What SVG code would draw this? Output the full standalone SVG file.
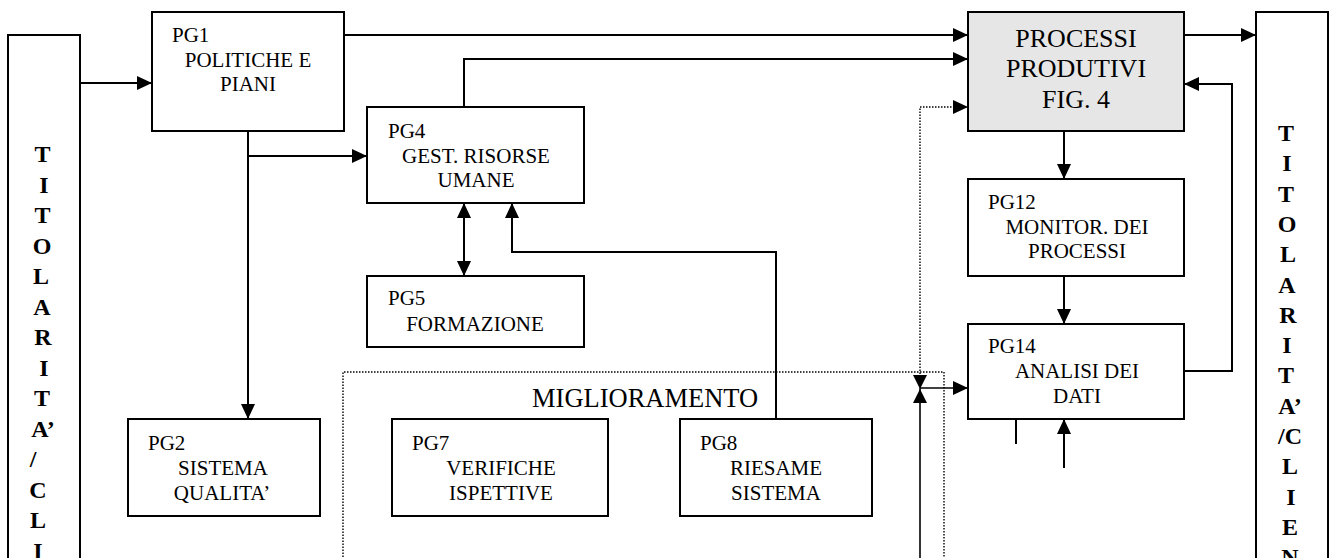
<svg xmlns="http://www.w3.org/2000/svg" width="1334" height="558" viewBox="0 0 1334 558">
<style>
.box{fill:#fff;stroke:#000;stroke-width:2}
.proc{fill:#e6e6e6;stroke:#000;stroke-width:2}
.t{font-family:"Liberation Serif","Times New Roman",serif;font-size:21px;fill:#000}
.c{text-anchor:middle}
.big{font-size:26px}
.col{font-family:"Liberation Serif","Times New Roman",serif;font-size:24px;font-weight:bold;text-anchor:middle;fill:#000}
.ln{fill:none;stroke:#000;stroke-width:2}
.dot{fill:none;stroke:#000;stroke-width:1.4;stroke-dasharray:1.5 1.5}
</style>
<defs>
<marker id="ah" markerUnits="userSpaceOnUse" markerWidth="15" markerHeight="14" refX="15" refY="7" orient="auto-start-reverse">
<path d="M0,0 L15,7 L0,14 z" fill="#000"/>
</marker>
<marker id="ahs" markerUnits="userSpaceOnUse" markerWidth="14" markerHeight="14" refX="14" refY="7" orient="auto-start-reverse">
<path d="M0,0 L14,7 L0,14 z" fill="#000"/>
</marker>
</defs>

<g id="col-left">
<rect class="box" x="8" y="35" width="72" height="540"/>
<text class="col" x="42.5" y="162">T</text>
<text class="col" x="44" y="192.5">I</text>
<text class="col" x="42.5" y="223">T</text>
<text class="col" x="42" y="253.5">O</text>
<text class="col" x="41" y="284">L</text>
<text class="col" x="42" y="314.5">A</text>
<text class="col" x="43" y="345">R</text>
<text class="col" x="44" y="375.5">I</text>
<text class="col" x="42" y="406">T</text>
<text class="col" x="43" y="436.5">A’</text>
<text class="col" x="33" y="467">/</text>
<text class="col" x="38" y="497.5">C</text>
<text class="col" x="38" y="528">L</text>
<text class="col" x="38" y="558.5">I</text>
</g>

<g id="col-right">
<rect class="box" x="1256" y="12" width="72" height="560"/>
<text class="col" x="1286" y="141">T</text>
<text class="col" x="1287" y="171.3">I</text>
<text class="col" x="1286" y="201.6">T</text>
<text class="col" x="1287" y="231.9">O</text>
<text class="col" x="1288" y="262.2">L</text>
<text class="col" x="1287" y="292.5">A</text>
<text class="col" x="1288" y="322.8">R</text>
<text class="col" x="1287" y="353.1">I</text>
<text class="col" x="1286" y="383.4">T</text>
<text class="col" x="1290" y="413.7">A’</text>
<text class="col" x="1290" y="444">/C</text>
<text class="col" x="1290" y="474.3">L</text>
<text class="col" x="1291" y="504.6">I</text>
<text class="col" x="1290" y="534.9">E</text>
<text class="col" x="1290" y="565.2">N</text>
</g>

<g id="pg1">
<rect class="box" x="152" y="12" width="192" height="119"/>
<text class="t" x="172" y="42">PG1</text>
<text class="t c" x="248" y="67">POLITICHE E</text>
<text class="t c" x="248" y="91">PIANI</text>
</g>

<g id="pg4">
<rect class="box" x="367" y="107" width="217" height="96"/>
<text class="t" x="388" y="138">PG4</text>
<text class="t c" x="476" y="163">GEST. RISORSE</text>
<text class="t c" x="476" y="187">UMANE</text>
</g>

<g id="pg5">
<rect class="box" x="367" y="276" width="217" height="71"/>
<text class="t" x="388" y="305">PG5</text>
<text class="t c" x="475" y="331">FORMAZIONE</text>
</g>

<g id="processi">
<rect class="proc" x="968" y="12" width="216" height="119"/>
<text class="t c big" x="1076" y="47">PROCESSI</text>
<text class="t c big" x="1076" y="77">PRODUTIVI</text>
<text class="t c big" x="1076" y="108">FIG. 4</text>
</g>

<g id="pg12">
<rect class="box" x="968" y="179" width="216" height="97"/>
<text class="t" x="988" y="209">PG12</text>
<text class="t c" x="1077" y="234">MONITOR. DEI</text>
<text class="t c" x="1077" y="258">PROCESSI</text>
</g>

<g id="pg14">
<rect class="box" x="968" y="324" width="216" height="95"/>
<text class="t" x="988" y="353">PG14</text>
<text class="t c" x="1077" y="378">ANALISI DEI</text>
<text class="t c" x="1077" y="403">DATI</text>
</g>

<g id="miglioramento">
<path class="dot" d="M343,560 L343,372 L944,372 L944,560"/>
<text class="t" x="532" y="407" style="font-size:26.5px">MIGLIORAMENTO</text>
</g>

<g id="pg2">
<rect class="box" x="128" y="419" width="192" height="97"/>
<text class="t" x="148" y="450">PG2</text>
<text class="t c" x="223" y="475">SISTEMA</text>
<text class="t c" x="222" y="500">QUALITA’</text>
</g>

<g id="pg7">
<rect class="box" x="392" y="419" width="216" height="97"/>
<text class="t" x="412" y="450">PG7</text>
<text class="t c" x="501" y="475">VERIFICHE</text>
<text class="t c" x="501" y="500">ISPETTIVE</text>
</g>

<g id="pg8">
<rect class="box" x="680" y="419" width="192" height="97"/>
<text class="t" x="700" y="450">PG8</text>
<text class="t c" x="776" y="475">RIESAME</text>
<text class="t c" x="776" y="500">SISTEMA</text>
</g>

<g id="connectors">
<path class="ln" d="M80,83 L152,83" marker-end="url(#ah)"/>
<path class="ln" d="M344,35 L968,35" marker-end="url(#ah)"/>
<path class="ln" d="M248,131 L248,419" marker-end="url(#ah)"/>
<path class="ln" d="M248,156 L367,156" marker-end="url(#ah)"/>
<path class="ln" d="M464,107 L464,59 L968,59" marker-end="url(#ah)"/>
<path class="ln" d="M464,203 L464,276" marker-start="url(#ah)" marker-end="url(#ah)"/>
<path class="ln" d="M776,419 L776,252 L512,252 L512,203" marker-end="url(#ah)"/>
<path class="ln" d="M1184,35 L1256,35" marker-end="url(#ah)"/>
<path class="ln" d="M1064,131 L1064,179" marker-end="url(#ah)"/>
<path class="ln" d="M1064,276 L1064,324" marker-end="url(#ah)"/>
<path class="ln" d="M1184,371 L1232,371 L1232,84 L1184,84" marker-end="url(#ah)"/>
<path class="ln" d="M1016,419 L1016,444"/>
<path class="ln" d="M1064,468 L1064,419" marker-end="url(#ah)"/>
<path class="dot" d="M920,389 L920,107 L968,107" marker-start="url(#ahs)" marker-end="url(#ah)"/>
<path class="ln" style="stroke-width:1.6" d="M920,560 L920,389" marker-end="url(#ahs)"/>
<path class="ln" style="stroke-width:1.6" d="M920,388 L968,388" marker-end="url(#ah)"/>
</g>
</svg>
